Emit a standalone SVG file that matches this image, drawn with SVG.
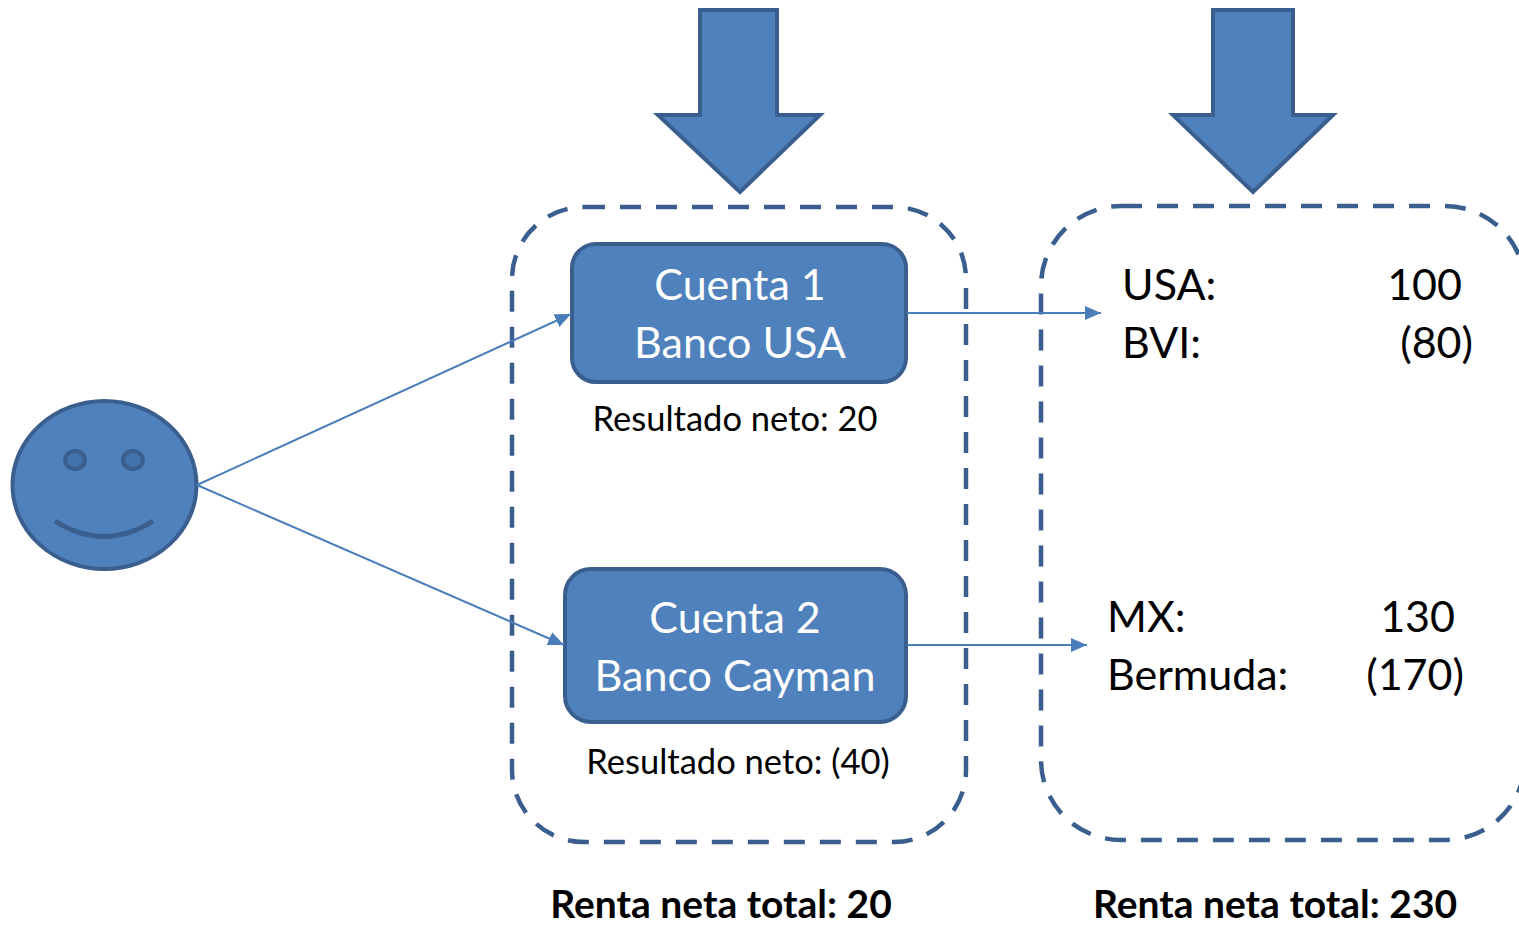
<svg xmlns="http://www.w3.org/2000/svg" width="1519" height="925" viewBox="0 0 1519 925">
<style>
.shape{fill:#4F81BD;stroke:#3A5F8F;stroke-width:4}
.dash{fill:none;stroke:#3A5F8F;stroke-width:4.5;stroke-dasharray:21 15}
.conn{stroke:#4A7EBB;stroke-width:2;fill:none}
.wt{font-family:Lato,"Open Sans",sans-serif;font-size:43px;fill:#fff;text-anchor:middle}
.bt{font-family:Lato,"Open Sans",sans-serif;font-size:43px;fill:#000}
.st{font-family:Lato,"Open Sans",sans-serif;font-size:34.5px;fill:#000;text-anchor:middle}
.tot{font-family:Lato,"Open Sans",sans-serif;font-size:39px;font-weight:bold;fill:#000;text-anchor:middle}
</style>
<defs>
<marker id="ah2" viewBox="0 0 10 10" refX="10" refY="5" markerWidth="16" markerHeight="14" markerUnits="userSpaceOnUse" orient="auto" preserveAspectRatio="none">
<path d="M0,0 L10,5 L0,10 Z" fill="#4A7EBB"/>
</marker>
</defs>
<rect width="1519" height="925" fill="#fff"/>
<g id="box-left"><rect class="dash" x="512" y="207" width="454" height="635" rx="72" ry="72"/></g>
<g id="box-right"><rect class="dash" x="1041" y="206" width="484" height="634" rx="80" ry="80"/></g>
<g id="arrow-down-1"><polygon class="shape" points="700,10 777,10 777,115 820,115 740,192 658,115 700,115"/></g>
<g id="arrow-down-2"><polygon class="shape" points="1213,10 1293,10 1293,115 1333,115 1253,192 1173,115 1213,115"/></g>
<g id="person">
<ellipse class="shape" cx="104.5" cy="485" rx="92" ry="84"/>
<ellipse cx="75" cy="460" rx="10" ry="9" fill="#4272AC" stroke="#3A5F8F" stroke-width="4"/>
<ellipse cx="133" cy="460" rx="10" ry="9" fill="#4272AC" stroke="#3A5F8F" stroke-width="4"/>
<path d="M55,521 Q104,552 153,521" fill="none" stroke="#3A5F8F" stroke-width="5"/>
</g>
<g id="cuenta1">
<rect class="shape" x="572" y="244" width="334" height="138" rx="24" ry="24"/>
<text class="wt" x="740" y="300">Cuenta 1</text>
<text class="wt" x="740" y="358">Banco USA</text>
<text class="st" x="735" y="431">Resultado neto: 20</text>
</g>
<g id="cuenta2">
<rect class="shape" x="565" y="569" width="341" height="153" rx="26" ry="26"/>
<text class="wt" x="735" y="633">Cuenta 2</text>
<text class="wt" x="735" y="691">Banco Cayman</text>
<text class="st" x="738" y="774">Resultado neto: (40)</text>
</g>
<g id="detalle1">
<text class="bt" x="1122" y="300">USA:</text>
<text class="bt" x="1462" y="300" text-anchor="end">100</text>
<text class="bt" x="1122" y="358">BVI:</text>
<text class="bt" x="1473" y="358" text-anchor="end">(80)</text>
</g>
<g id="detalle2">
<text class="bt" x="1107" y="632">MX:</text>
<text class="bt" x="1455" y="632" text-anchor="end">130</text>
<text class="bt" x="1107" y="690">Bermuda:</text>
<text class="bt" x="1464" y="690" text-anchor="end">(170)</text>
</g>
<g id="totales">
<text class="tot" x="721" y="918">Renta neta total: 20</text>
<text class="tot" x="1275" y="918">Renta neta total: 230</text>
</g>
<g id="connectors">
<line class="conn" x1="197" y1="485" x2="571" y2="314" marker-end="url(#ah2)"/>
<line class="conn" x1="197" y1="485" x2="564" y2="645" marker-end="url(#ah2)"/>
<line class="conn" x1="907" y1="313" x2="1101" y2="313" marker-end="url(#ah2)"/>
<line class="conn" x1="907" y1="645" x2="1087" y2="645" marker-end="url(#ah2)"/>
</g>
</svg>
